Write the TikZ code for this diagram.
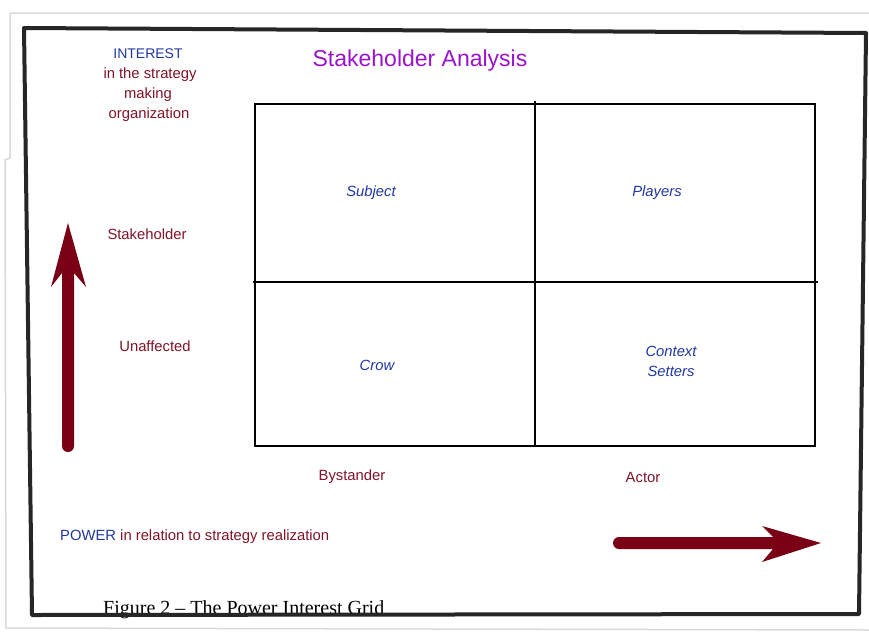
\documentclass[tikz,border=0pt]{standalone}
\usepackage{fontspec}
\setmainfont{Liberation Sans}
\newfontfamily\capfont{Liberation Serif}
\definecolor{maroon}{RGB}{128,20,40}
\definecolor{arrowred}{RGB}{122,0,22}
\definecolor{navy}{RGB}{32,56,160}
\definecolor{titlepurple}{RGB}{155,20,205}
\begin{document}
\begin{tikzpicture}[x=1pt,y=-1pt,
  lbl/.style={inner sep=0pt,font=\fontsize{14.8}{17}\selectfont,text=maroon},
  cell/.style={inner sep=0pt,font=\fontsize{14.8}{20}\selectfont\itshape,text=navy,align=center},
  gridline/.style={line width=1.3pt,black},
  frame/.style={line width=4pt,black!85,line join=round},
  outer/.style={line width=1.5pt,black!15}]
\useasboundingbox[fill=white] (0,0) rectangle (869,632);
% outer light frame
\draw[outer] (869,13) -- (10,13) -- (10,158) -- (5,160) -- (6,628) -- (869,630);
% grid
\coordinate (g1) at (255,104);
\coordinate (g2) at (815,446);
\draw[gridline] (g1) rectangle (g2);
\coordinate (vt) at (535,101);
\coordinate (vb) at (535,446);
\coordinate (hl) at (253,282);
\coordinate (hr) at (818,282);
\draw[gridline] (vt) -- (vb);
\draw[gridline] (hl) -- (hr);
% title
\node[inner sep=0pt,font=\fontsize{23}{26}\selectfont,text=titlepurple] (title) at (420,61) {Stakeholder Analysis};
% interest label
\node[inner sep=0pt,font=\fontsize{14}{17}\selectfont,text=navy] (interest) at (148,54) {INTEREST};
\node[lbl] (l1) at (150,75) {in the strategy};
\node[lbl] (l2) at (148,95) {making};
\node[lbl] (l3) at (149,115) {organization};
\node[lbl] (stake) at (147,234) {Stakeholder};
\node[lbl] (unaff) at (155,346) {Unaffected};
% cells
\node[cell] (subject) at (371,193) {Subject};
\node[cell] (players) at (657,193) {Players};
\node[cell] (crow) at (377,365) {Crow};
\node[cell] (context) at (671,361) {Context\\Setters};
% bottom labels
\node[lbl] (bystander) at (352,477) {Bystander};
\node[lbl] (actor) at (643,477) {Actor};
\node[lbl,anchor=west] (power) at (60,537) {\textcolor{navy}{POWER} in relation to strategy realization};
% caption
\node[inner sep=0pt,anchor=base west,font=\capfont\fontsize{20}{22}\selectfont] (caption) at (103,614) {Figure 2 – The Power Interest Grid};
% vertical arrow
\fill[arrowred] (68,223) -- (86,287) -- (74,273) -- (74,446)
  arc[start angle=0,end angle=180,radius=6] -- (62,273) -- (51,287) -- cycle;
% horizontal arrow
\fill[arrowred] (821,543) -- (762,526) -- (773,537) -- (619,537)
  arc[start angle=-90,end angle=-270,radius=6] -- (773,549) -- (762,562) -- cycle;
% thick frame
\draw[frame] (24,28) -- (866,33) -- (859,614) -- (32,615) -- cycle;
\end{tikzpicture}
\end{document}
